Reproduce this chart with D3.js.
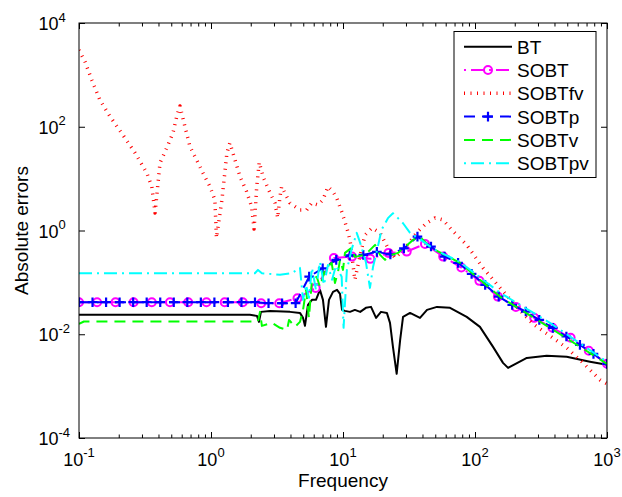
<!DOCTYPE html>
<html>
<head>
<meta charset="utf-8">
<script src="https://cdn.jsdelivr.net/npm/d3@7"></script>
<style>
  html, body { margin: 0; padding: 0; background: #fff; }
  svg { display: block; font-family: "Liberation Sans", Arial, Helvetica, sans-serif; }
</style>
</head>
<body>
<svg id="chart" width="622" height="497"></svg>
<script>
// ---------------- data ----------------
const seriesNames = ["BT", "SOBT", "SOBTfv", "SOBTp", "SOBTv", "SOBTpv"];

const freqBT = [0.1, 0.345, 0.826, 1.97, 2.23, 2.31, 2.39, 2.80, 3.97, 4.72,
  4.98, 5.15, 5.43, 5.82, 6.24, 6.69, 7.05, 7.43, 7.83, 8.40,
  9.01, 9.49, 9.83, 10.35, 11.3, 12.3, 13.5, 14.9, 16.3, 17.8,
  19.4, 21.5, 22.7, 23.9, 25.5, 27.1, 28.5, 32.2, 38.3, 43.3,
  51.5, 64.7, 86.5, 109, 137, 163, 178, 247, 349, 495, 743, 1000];
const errBT = [0.0237, 0.0237, 0.0237, 0.0237, 0.0226, 0.0173, 0.0270, 0.0282, 0.0270, 0.0258,
  0.0207, 0.0145, 0.0368, 0.0460, 0.0460, 0.0716, 0.0460, 0.0139, 0.0460, 0.0656,
  0.0716, 0.0600, 0.0295, 0.0282, 0.0270, 0.0295, 0.0270, 0.0323, 0.0337, 0.0207,
  0.0270, 0.0258, 0.0166, 0.00571, 0.00173, 0.00780, 0.0216, 0.0258, 0.0207, 0.0295,
  0.0337, 0.0323, 0.0216, 0.0139, 0.00571, 0.00281, 0.00225, 0.0035, 0.00384, 0.00367, 0.00296, 0.00257];

const freqSOBT = [0.1, 0.137, 0.189, 0.259, 0.356, 0.489, 0.672, 0.924, 1.27, 1.74,
  2.40, 3.29, 4.52, 6.21, 8.53, 11.7, 16.1, 22.1, 30.4, 41.8,
  57.4, 78.8, 108, 149, 204, 281, 386, 530, 728, 1000];
const errSOBT = [0.0415, 0.0415, 0.0415, 0.0415, 0.0415, 0.0415, 0.0415, 0.0415, 0.0415, 0.0415,
  0.0397, 0.0397, 0.0496, 0.0783, 0.296, 0.314, 0.284, 0.370, 0.392, 0.552,
  0.314, 0.193, 0.107, 0.0532, 0.0337, 0.0207, 0.0133, 0.00853, 0.00479, 0.00269];

const freqSOBTfv = [0.1, 0.111, 0.125, 0.144, 0.172, 0.215, 0.266, 0.326, 0.356, 0.377,
  0.411, 0.462, 0.515, 0.550, 0.582, 0.635, 0.693, 0.779, 0.869, 0.983,
  1.07, 1.10, 1.21, 1.32, 1.39, 1.52, 1.66, 1.86, 2.03, 2.12,
  2.22, 2.32, 2.48, 2.80, 3.05, 3.20, 3.33, 3.43, 3.96, 4.72,
  5.31, 5.79, 6.47, 7.05, 7.69, 8.40, 8.96, 9.77, 10.7, 11.3,
  12.3, 13.5, 14.7, 16.6, 19.1, 21.9, 24.8, 29.5, 36.1, 43.1,
  49.8, 57.3, 66.6, 86.5, 115, 155, 207, 275, 370, 495, 658, 885, 1000];
const errSOBTfv = [3020, 1795, 798, 328, 157, 69.5, 31.3, 12.9, 7.01, 2.18,
  20.1, 39.1, 76.0, 157, 252, 100, 41.4, 22.9, 12.9, 7.01,
  3.89, 0.720, 3.89, 31.3, 48.8, 22.9, 10.9, 5.62, 2.89, 1.07,
  7.01, 20.7, 10.9, 5.30, 3.40, 1.75, 4.50, 7.01, 3.40, 2.49,
  2.49, 3.40, 3.11, 3.89, 7.01, 5.62, 4.25, 2.31, 1.11, 0.659,
  0.112, 0.339, 0.822, 1.12, 0.899, 0.462, 0.296, 0.462, 0.899, 1.40,
  1.75, 1.60, 1.03, 0.528, 0.190, 0.0783, 0.0337, 0.0158, 0.00931, 0.00547, 0.00281, 0.00132, 0.00111];

const freqSOBTp = [0.1, 0.1266, 0.1604, 0.2031, 0.2572, 0.3257, 0.4125, 0.5223, 0.6615, 0.8377,
  1.061, 1.343, 1.701, 2.154, 2.728, 3.455, 4.375, 5.541, 7.017, 8.886,
  11.25, 14.25, 18.05, 22.85, 28.94, 36.65, 46.42, 58.78, 74.44, 94.27,
  119.4, 151.2, 191.5, 242.5, 307.1, 388.9, 492.4, 623.6, 789.8, 1000];
const errSOBTp = [0.0415, 0.0415, 0.0415, 0.0415, 0.0415, 0.0415, 0.0415, 0.0415, 0.0415, 0.0415,
  0.0415, 0.0415, 0.0415, 0.0415, 0.0397, 0.0397, 0.0397, 0.129, 0.186, 0.272,
  0.331, 0.339, 0.387, 0.346, 0.452, 0.763, 0.490, 0.314, 0.238, 0.146,
  0.0895, 0.0532, 0.0368, 0.0274, 0.0189, 0.0133, 0.00904, 0.00625, 0.00419, 0.00269];

const freqSOBTv = [0.1, 0.109, 2.27, 2.35, 2.43, 2.90, 3.33, 3.77, 3.90, 4.33,
  4.72, 4.98, 5.25, 5.52, 5.82, 6.32, 6.69, 7.31, 8.20, 8.69,
  9.17, 9.49, 10.0, 10.35, 11.6, 12.3, 14.7, 17.5, 19.1, 20.8,
  23.4, 26.1, 29.5, 33.9, 38.3, 44.0, 49.8, 76.9, 155, 370, 1000];
const errSOBTv = [0.0158, 0.0176, 0.0176, 0.0270, 0.0145, 0.0166, 0.0133, 0.0122, 0.0189, 0.0139,
  0.0173, 0.0295, 0.0716, 0.0207, 0.112, 0.128, 0.0818, 0.174, 0.238, 0.0977,
  0.159, 0.272, 0.174, 0.370, 0.462, 0.310, 0.339, 0.528, 0.339, 0.272,
  0.339, 0.370, 0.483, 0.659, 0.753, 0.528, 0.423, 0.238, 0.0526, 0.0133, 0.00269];

const freqSOBTpv = [0.1, 2.15, 2.27, 2.43, 3.33, 4.08, 4.72, 4.98, 5.25, 5.52,
  5.82, 6.24, 6.69, 7.18, 7.69, 8.26, 8.85, 9.77, 10.1, 10.7,
  11.6, 12.7, 13.5, 14.9, 16.0, 16.9, 18.0, 19.6, 21.9, 23.9,
  26.1, 28.5, 32.2, 37.0, 41.8, 49.8, 76.9, 155, 370, 1000];
const errSOBTpv = [0.150, 0.150, 0.174, 0.150, 0.140, 0.150, 0.190, 0.046, 0.0895, 0.0502,
  0.190, 0.0716, 0.248, 0.0895, 0.217, 0.112, 0.210, 0.128, 0.0133, 0.174,
  0.423, 0.899, 0.577, 0.248, 0.0783, 0.201, 0.392, 1.03, 1.73, 2.15,
  1.73, 1.38, 0.899, 0.720, 0.577, 0.423, 0.248, 0.0628, 0.0166, 0.00294];

const xTickValues = [0.1, 1, 10, 100, 1000];
const xTickExponents = ["-1", "0", "1", "2", "3"];
const yTickValues = [1e-4, 1e-2, 1, 1e2, 1e4];
const yTickExponents = ["-4", "-2", "0", "2", "4"];
const xMinorTicks = [];
[0.1, 1, 10, 100].forEach(d => { for (let k = 2; k <= 9; k++) xMinorTicks.push(+(d * k).toPrecision(3)); });

const xLabel = "Frequency";
const yLabel = "Absolute errors";

// ---------------- styles ----------------
const series = [
  { name: seriesNames[0], f: freqBT, e: errBT, color: "#000000", width: 2, dash: null, marker: null },
  { name: seriesNames[1], f: freqSOBT, e: errSOBT, color: "#ff00ff", width: 2, dash: "13,5,2,5", marker: "circle" },
  { name: seriesNames[2], f: freqSOBTfv, e: errSOBTfv, color: "#ff0000", width: 3.5, dash: "1,5.5", marker: null },
  { name: seriesNames[3], f: freqSOBTp, e: errSOBTp, color: "#0000ff", width: 2, dash: "11,7", marker: "plus" },
  { name: seriesNames[4], f: freqSOBTv, e: errSOBTv, color: "#00ff00", width: 2, dash: "11,7", marker: null },
  { name: seriesNames[5], f: freqSOBTpv, e: errSOBTpv, color: "#00ffff", width: 2, dash: "13,5,2,5", marker: null }
];

// ---------------- layout ----------------
const L = 79, R = 607, T = 23, B = 438;
const svg = d3.select("#chart");
const x = d3.scaleLog().domain([0.1, 1000]).range([L, R]);
const y = d3.scaleLog().domain([1e-4, 1e4]).range([B, T]);

svg.append("defs").append("clipPath").attr("id", "clip")
  .append("rect").attr("x", L).attr("y", T).attr("width", R - L).attr("height", B - T);

svg.append("rect").attr("x", L).attr("y", T).attr("width", R - L).attr("height", B - T).attr("fill", "#fff");

// ---------------- series ----------------
const line = d3.line().x(d => x(d[0])).y(d => y(d[1]));
const plot = svg.append("g").attr("clip-path", "url(#clip)");

function drawMarker(g, type, color, cx, cy) {
  if (type === "circle") {
    g.append("circle").attr("cx", cx).attr("cy", cy).attr("r", 4)
      .attr("fill", "none").attr("stroke", color).attr("stroke-width", 2);
  } else if (type === "plus") {
    g.append("path").attr("d", `M${cx - 4.8},${cy}H${cx + 4.8}M${cx},${cy - 4.8}V${cy + 4.8}`)
      .attr("stroke", color).attr("stroke-width", 2.2).attr("fill", "none");
  }
}

series.forEach(s => {
  const pts = s.f.map((f, i) => [f, s.e[i]]);
  plot.append("path").datum(pts)
    .attr("d", line)
    .attr("fill", "none")
    .attr("stroke", s.color)
    .attr("stroke-width", s.width)
    .attr("stroke-dasharray", s.dash)
    .attr("stroke-linejoin", "round");
  if (s.marker) {
    const mg = plot.append("g");
    pts.forEach(p => drawMarker(mg, s.marker, s.color, x(p[0]), y(p[1])));
  }
});

// ---------------- axes ----------------
function tickAxis(axisFn, scale, values, size, tr) {
  const g = svg.append("g").attr("transform", tr)
    .call(axisFn(scale).tickValues(values).tickSize(size).tickFormat(""));
  g.select(".domain").remove();
  g.selectAll(".tick line").attr("stroke", "#000").attr("stroke-width", 1);
  return g;
}
tickAxis(d3.axisBottom, x, xTickValues, -6, `translate(0,${B})`);
tickAxis(d3.axisBottom, x, xMinorTicks, -3.5, `translate(0,${B})`);
tickAxis(d3.axisTop, x, xTickValues, -6, `translate(0,${T})`);
tickAxis(d3.axisTop, x, xMinorTicks, -3.5, `translate(0,${T})`);
tickAxis(d3.axisLeft, y, yTickValues, -6, `translate(${L},0)`);
tickAxis(d3.axisRight, y, yTickValues, -6, `translate(${R},0)`);

svg.append("rect").attr("x", L).attr("y", T).attr("width", R - L).attr("height", B - T)
  .attr("fill", "none").attr("stroke", "#000").attr("stroke-width", 1);

// tick labels with superscripts
const xl = svg.append("g").selectAll("text").data(xTickValues).join("text")
  .attr("y", 466).attr("text-anchor", "middle").attr("x", d => x(d))
  .attr("font-size", 18).attr("fill", "#000");
xl.append("tspan").text("10");
xl.append("tspan").attr("dy", -9).attr("font-size", 13).text((d, i) => xTickExponents[i]);

const yl = svg.append("g").selectAll("text").data(yTickValues).join("text")
  .attr("x", 38.5).attr("y", d => y(d) + 7).attr("text-anchor", "start")
  .attr("font-size", 18).attr("fill", "#000");
yl.append("tspan").text("10");
yl.append("tspan").attr("dy", -8.5).attr("font-size", 13).text((d, i) => yTickExponents[i]);

// axis labels
svg.append("text").attr("x", (L + R) / 2).attr("y", 487).attr("text-anchor", "middle")
  .attr("font-size", 19).attr("fill", "#000").text(xLabel);
svg.append("text").attr("transform", `translate(28,${(T + B) / 2}) rotate(-90)`)
  .attr("text-anchor", "middle").attr("font-size", 19).attr("fill", "#000").text(yLabel);

// ---------------- legend ----------------
const lg = svg.append("g");
const lgX = 454, lgY = 31.5, lgW = 142, lgH = 146, rowH = 23.3, row0 = 46.7;
lg.append("rect").attr("x", lgX).attr("y", lgY).attr("width", lgW).attr("height", lgH)
  .attr("fill", "#fff").attr("stroke", "#000").attr("stroke-width", 1);
series.forEach((s, i) => {
  const cy = row0 + i * rowH;
  lg.append("line").attr("x1", 464).attr("x2", 512).attr("y1", cy).attr("y2", cy)
    .attr("stroke", s.color).attr("stroke-width", s.width)
    .attr("stroke-dasharray", s.dash)
    .attr("stroke-dashoffset", s.dash === "13,5,2,5" ? 18 : 0);
  if (s.marker) drawMarker(lg, s.marker, s.color, 488, cy);
  lg.append("text").attr("x", 517).attr("y", cy + 7).attr("font-size", 19)
    .attr("fill", "#000").text(s.name);
});
</script>
</body>
</html>
